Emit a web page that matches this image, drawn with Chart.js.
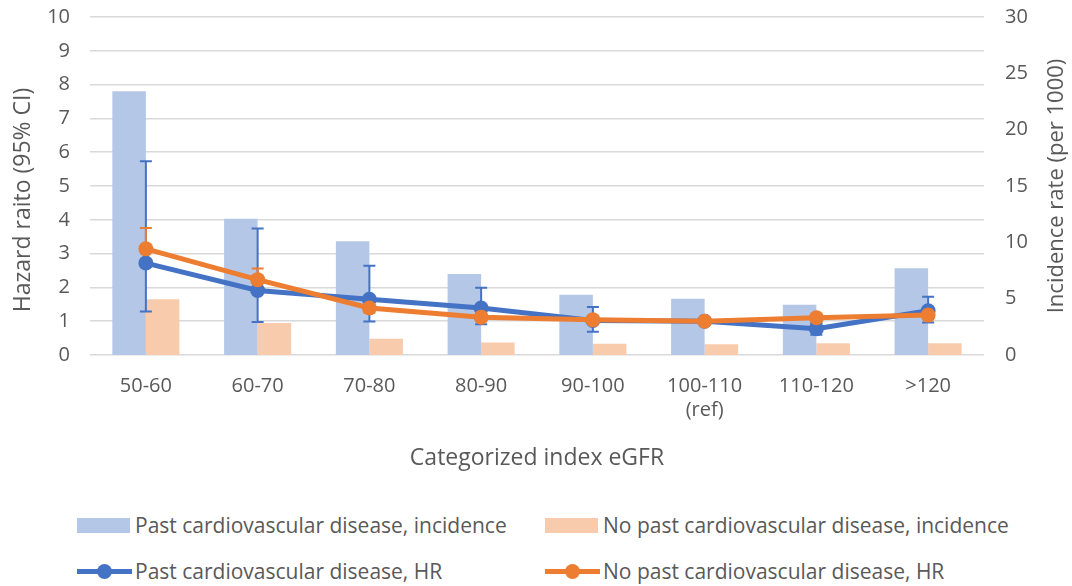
<!DOCTYPE html>
<html>
<head>
<meta charset="utf-8">
<script src="https://cdn.jsdelivr.net/npm/chart.js@4/dist/chart.umd.min.js"></script>
<style>
  body { margin: 0; background: #fff; font-family: "Open Sans", sans-serif; }
  #wrap { position: relative; width: 1072px; height: 586px; }
  #chartBox { position: absolute; left: 0; top: 0; width: 1072px; height: 480px; }
  .lg { position: absolute; display: flex; align-items: center; font-size: 21px; color: #595959; height: 28px; white-space: nowrap; }
  .sw { width: 53px; height: 15px; margin-right: 5px; position: relative; }
  .ln { width: 55px; height: 18px; margin-right: 3px; position: relative; }
  .ln .bar { position: absolute; left: 0; right: 0; top: 6.5px; height: 5px; }
  .ln .dot { position: absolute; left: 20px; top: 1.5px; width: 15px; height: 15px; border-radius: 50%; }
</style>
</head>
<body>
<div id="wrap">
  <div id="chartBox"><canvas id="myChart"></canvas></div>
  <div id="legend"></div>
</div>
<script>
var categories = ['50-60', '60-70', '70-80', '80-90', '90-100', ['100-110', '(ref)'], '110-120', '>120'];

// incidence per 1000 (right axis)
var pastIncidence = [23.4, 12.1, 10.1, 7.2, 5.35, 5.0, 4.45, 7.7];
var noPastIncidence = [4.95, 2.85, 1.45, 1.1, 1.0, 0.95, 1.05, 1.05];

// hazard ratios with 95% CI (left axis)
var pastHR = [2.72, 1.91, 1.65, 1.39, 1.02, 1.0, 0.78, 1.31];
var pastLow = [1.29, 0.98, 0.99, 0.91, 0.69, null, 0.6, 0.96];
var pastHigh = [5.73, 3.74, 2.64, 1.99, 1.42, null, 0.95, 1.72];

var noPastHR = [3.14, 2.23, 1.39, 1.12, 1.04, 1.0, 1.1, 1.18];
var noPastLow = [2.6, 1.95, 1.25, 1.02, 0.95, null, 1.0, 1.08];
var noPastHigh = [3.76, 2.56, 1.55, 1.24, 1.14, null, 1.22, 1.3];

var blue = '#4472C4', orange = '#ED7D31';
var grey = '#595959';
var leftTitle = 'Hazard raito (95% CI)';
var rightTitle = 'Incidence rate (per 1000)';

// draw CI whiskers for the HR lines, under both lines but over the bars
var errorBars = {
  id: 'errorBars',
  beforeDatasetDraw: function(chart, args) {
    if (chart.data.datasets[args.index].label !== 'Past cardiovascular disease, HR') return;
    var ctx = chart.ctx;
    var yScale = chart.scales.yL;
    chart.data.datasets.forEach(function(ds, i) {
      if (!ds.errLow) return;
      var meta = chart.getDatasetMeta(i);
      ctx.save();
      ctx.strokeStyle = ds.borderColor;
      ctx.lineWidth = 2;
      meta.data.forEach(function(pt, j) {
        if (ds.errLow[j] == null) return;
        var x = pt.x;
        var yl = yScale.getPixelForValue(ds.errLow[j]);
        var yh = yScale.getPixelForValue(ds.errHigh[j]);
        ctx.beginPath();
        ctx.moveTo(x, yl); ctx.lineTo(x, yh);
        ctx.moveTo(x - 6, yl); ctx.lineTo(x + 6, yl);
        ctx.moveTo(x - 6, yh); ctx.lineTo(x + 6, yh);
        ctx.stroke();
      });
      ctx.restore();
    });
  }
};

// both y titles read bottom-to-top
function drawVTitle(ctx, text, x, y, size) {
  ctx.save();
  ctx.translate(x, y);
  ctx.rotate(-Math.PI / 2);
  ctx.font = size + 'px "Open Sans"';
  ctx.fillStyle = grey;
  ctx.textAlign = 'center';
  ctx.textBaseline = 'middle';
  ctx.fillText(text, 0, 0);
  ctx.restore();
}

var axisTitles = {
  id: 'axisTitles',
  afterDraw: function(chart) {
    var area = chart.chartArea;
    var mid = (area.top + area.bottom) / 2;
    drawVTitle(chart.ctx, leftTitle, chart.scales.yL.left + 23, mid + 14, 23);
    drawVTitle(chart.ctx, rightTitle, chart.scales.yR.right - 15, mid, 22);
  }
};

var ctx = document.getElementById('myChart').getContext('2d');
var chart = new Chart(ctx, {
  type: 'bar',
  data: {
    labels: categories,
    datasets: [
      {
        label: 'Past cardiovascular disease, incidence',
        data: pastIncidence,
        backgroundColor: '#B4C7E7',
        yAxisID: 'yR',
        order: 2
      },
      {
        label: 'No past cardiovascular disease, incidence',
        data: noPastIncidence,
        backgroundColor: '#F8CBAD',
        yAxisID: 'yR',
        order: 3
      },
      {
        type: 'line',
        label: 'Past cardiovascular disease, HR',
        data: pastHR,
        errLow: pastLow,
        errHigh: pastHigh,
        borderColor: blue,
        backgroundColor: blue,
        borderWidth: 5,
        pointRadius: 7.5,
        pointBorderWidth: 0,
        pointBackgroundColor: blue,
        yAxisID: 'yL',
        order: 1
      },
      {
        type: 'line',
        label: 'No past cardiovascular disease, HR',
        data: noPastHR,
        errLow: noPastLow,
        errHigh: noPastHigh,
        borderColor: orange,
        backgroundColor: orange,
        borderWidth: 5,
        pointRadius: 7.5,
        pointBorderWidth: 0,
        pointBackgroundColor: orange,
        yAxisID: 'yL',
        order: 0
      }
    ]
  },
  options: {
    responsive: true,
    maintainAspectRatio: false,
    animation: false,
    layout: { padding: { top: 17, left: 0, right: 0, bottom: 0 } },
    datasets: { bar: { categoryPercentage: 0.6, barPercentage: 1 } },
    plugins: { legend: { display: false }, tooltip: { enabled: false } },
    scales: {
      x: {
        grid: { display: false, drawTicks: false },
        border: { display: false },
        ticks: { color: grey, font: { family: 'Open Sans', size: 20 }, padding: 19, maxRotation: 0 },
        title: { display: true, text: 'Categorized index eGFR', color: grey, font: { family: 'Open Sans', size: 23 }, padding: { bottom: 8 } },
        afterFit: function(s) { s.height = 125; s.paddingLeft = 0; s.paddingRight = 0; }
      },
      yL: {
        position: 'left',
        min: 0, max: 10,
        ticks: { stepSize: 1, color: grey, font: { family: 'Open Sans', size: 20 }, padding: 20 },
        grid: { color: '#D9D9D9', lineWidth: 1.5, drawTicks: false },
        border: { display: false },
        afterFit: function(s) { s.width = 90; s.paddingTop = 0; s.paddingBottom = 0; }
      },
      yR: {
        position: 'right',
        min: 0, max: 30,
        ticks: { stepSize: 5, color: grey, font: { family: 'Open Sans', size: 20 }, padding: 21 },
        grid: { display: false, drawTicks: false },
        border: { display: false },
        afterFit: function(s) { s.width = 88; s.paddingTop = 0; s.paddingBottom = 0; }
      }
    }
  },
  plugins: [errorBars, axisTitles]
});

// legend laid out in two columns under the chart
var legendPos = [[77, 511], [545, 511], [77, 557], [545, 557]];
var legendEl = document.getElementById('legend');
chart.data.datasets.forEach(function(ds, i) {
  var item = document.createElement('div');
  item.className = 'lg';
  item.style.left = legendPos[i][0] + 'px';
  item.style.top = legendPos[i][1] + 'px';
  var sw = document.createElement('div');
  if (ds.type === 'line') {
    sw.className = 'ln';
    sw.innerHTML = '<div class="bar" style="background:' + ds.borderColor + '"></div>' +
                   '<div class="dot" style="background:' + ds.borderColor + '"></div>';
  } else {
    sw.className = 'sw';
    sw.style.background = ds.backgroundColor;
  }
  item.appendChild(sw);
  var txt = document.createElement('span');
  txt.textContent = ds.label;
  item.appendChild(txt);
  legendEl.appendChild(item);
});
</script>
</body>
</html>
